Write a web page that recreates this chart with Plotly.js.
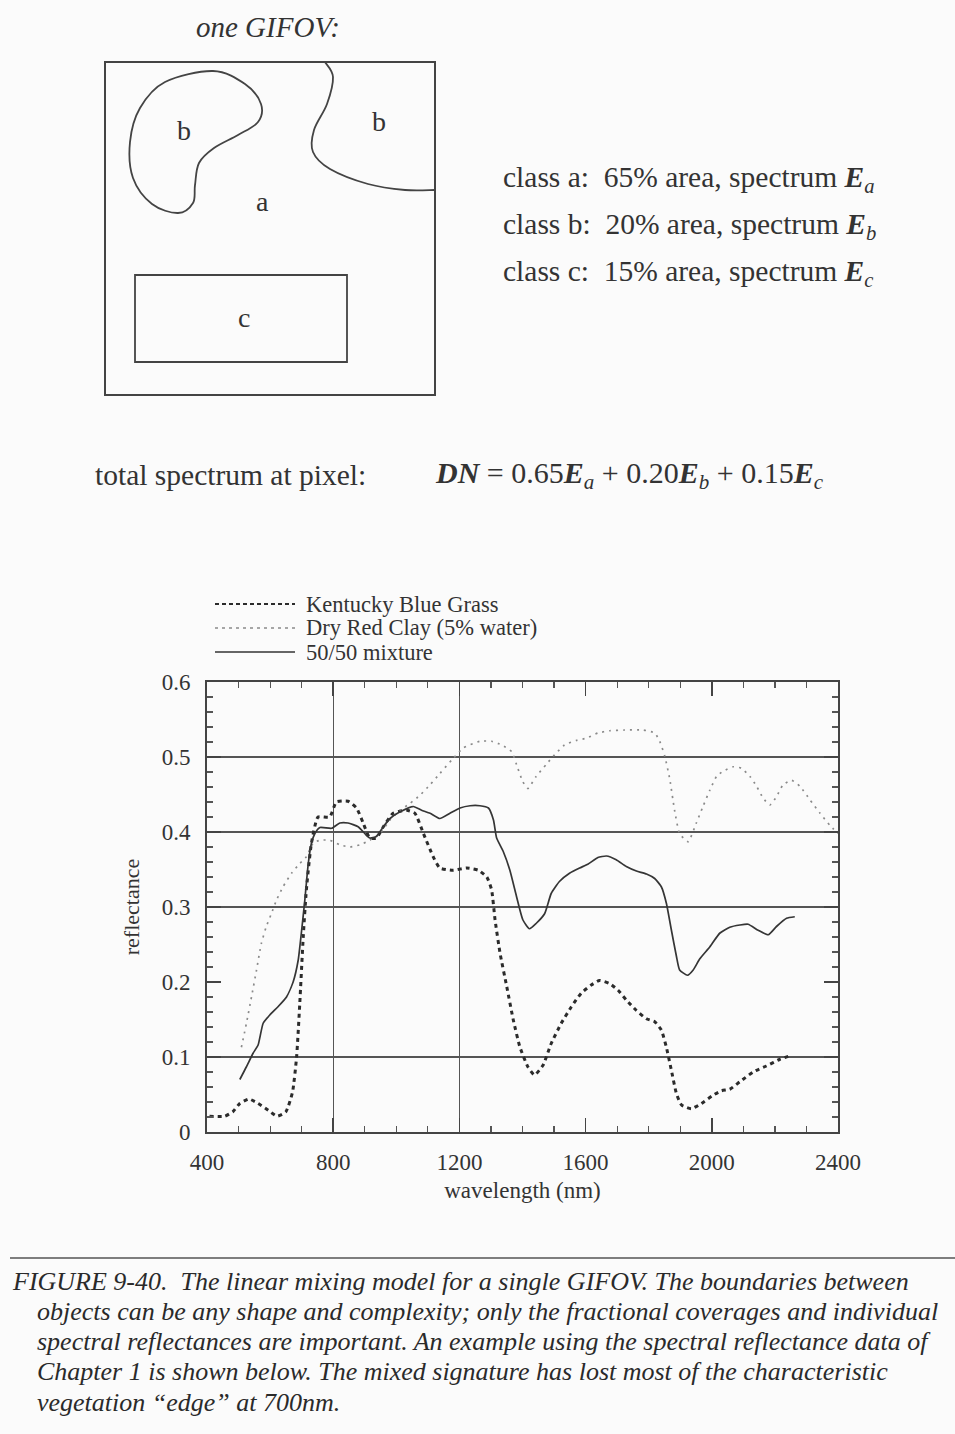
<!DOCTYPE html>
<html>
<head>
<meta charset="utf-8">
<script src="https://cdn.plot.ly/plotly-3.0.1.min.js"></script>
<style>
  html, body { margin: 0; padding: 0; background: #fbfbfb; }
  #chart { width: 955px; height: 1434px; }
</style>
</head>
<body>
<div id="chart"></div>
<script>
// ---------------- data ----------------
const seriesNames = ["Kentucky Blue Grass", "Dry Red Clay (5% water)", "50/50 mixture"];

const grassNm = [408, 456, 482, 504, 533, 562, 594, 622, 650, 671, 684, 694, 705, 715, 731, 752, 789, 810, 847, 874, 895, 916, 937, 959, 990, 1033, 1059, 1086, 1117, 1138, 1180, 1223, 1260, 1287, 1302, 1313, 1329, 1350, 1371, 1392, 1417, 1438, 1465, 1491, 1523, 1555, 1586, 1618, 1644, 1676, 1703, 1729, 1761, 1793, 1819, 1840, 1856, 1872, 1888, 1904, 1935, 1967, 2004, 2031, 2057, 2089, 2131, 2173, 2216, 2250];
const grassRefl = [0.021, 0.021, 0.027, 0.038, 0.044, 0.038, 0.029, 0.021, 0.027, 0.053, 0.100, 0.171, 0.260, 0.323, 0.385, 0.420, 0.420, 0.440, 0.441, 0.432, 0.412, 0.392, 0.392, 0.407, 0.425, 0.429, 0.425, 0.398, 0.367, 0.352, 0.349, 0.352, 0.349, 0.340, 0.323, 0.283, 0.238, 0.194, 0.149, 0.113, 0.087, 0.076, 0.089, 0.118, 0.145, 0.167, 0.185, 0.196, 0.202, 0.198, 0.189, 0.176, 0.162, 0.151, 0.147, 0.136, 0.113, 0.082, 0.051, 0.036, 0.031, 0.038, 0.049, 0.055, 0.057, 0.067, 0.080, 0.088, 0.097, 0.102];

const clayNm = [509, 525, 541, 557, 572, 588, 604, 620, 641, 668, 694, 715, 736, 758, 789, 821, 853, 885, 916, 948, 980, 1012, 1043, 1075, 1107, 1138, 1180, 1212, 1265, 1302, 1334, 1366, 1381, 1401, 1417, 1443, 1475, 1502, 1533, 1570, 1602, 1639, 1676, 1724, 1782, 1819, 1835, 1851, 1867, 1882, 1898, 1925, 1951, 1972, 1994, 2015, 2036, 2068, 2094, 2121, 2142, 2163, 2184, 2205, 2226, 2253, 2279, 2311, 2343, 2374, 2400];
const clayRefl = [0.113, 0.145, 0.180, 0.216, 0.251, 0.274, 0.291, 0.309, 0.327, 0.345, 0.358, 0.367, 0.385, 0.389, 0.389, 0.383, 0.380, 0.383, 0.389, 0.398, 0.416, 0.429, 0.438, 0.449, 0.463, 0.478, 0.498, 0.512, 0.521, 0.521, 0.516, 0.507, 0.490, 0.467, 0.458, 0.474, 0.490, 0.503, 0.516, 0.522, 0.525, 0.532, 0.535, 0.536, 0.536, 0.532, 0.521, 0.501, 0.470, 0.429, 0.398, 0.387, 0.412, 0.434, 0.456, 0.474, 0.481, 0.487, 0.485, 0.474, 0.461, 0.445, 0.436, 0.447, 0.463, 0.469, 0.461, 0.443, 0.425, 0.409, 0.398];

const mixNm = [504, 525, 546, 562, 578, 599, 625, 652, 673, 689, 699, 710, 721, 731, 742, 758, 795, 821, 847, 879, 900, 916, 937, 959, 980, 1012, 1054, 1080, 1107, 1138, 1170, 1202, 1234, 1265, 1292, 1308, 1318, 1339, 1360, 1381, 1401, 1422, 1443, 1470, 1491, 1517, 1549, 1581, 1607, 1639, 1666, 1697, 1729, 1761, 1793, 1819, 1840, 1856, 1872, 1888, 1898, 1923, 1941, 1962, 1994, 2025, 2057, 2089, 2115, 2147, 2179, 2205, 2237, 2263];
const mixRefl = [0.070, 0.087, 0.105, 0.116, 0.145, 0.156, 0.167, 0.180, 0.200, 0.229, 0.265, 0.309, 0.358, 0.385, 0.398, 0.406, 0.405, 0.412, 0.412, 0.407, 0.398, 0.392, 0.394, 0.407, 0.418, 0.427, 0.434, 0.429, 0.425, 0.418, 0.425, 0.432, 0.435, 0.435, 0.432, 0.416, 0.392, 0.374, 0.349, 0.314, 0.283, 0.271, 0.278, 0.291, 0.318, 0.334, 0.345, 0.352, 0.357, 0.366, 0.368, 0.363, 0.354, 0.348, 0.344, 0.338, 0.327, 0.305, 0.269, 0.234, 0.216, 0.209, 0.216, 0.231, 0.247, 0.265, 0.273, 0.276, 0.277, 0.269, 0.263, 0.274, 0.285, 0.287];

const xTickVals = [400, 800, 1200, 1600, 2000, 2400];
const xTickText = ["400", "800", "1200", "1600", "2000", "2400"];
const yTickVals = [0, 0.1, 0.2, 0.3, 0.4, 0.5, 0.6];
const yTickText = ["0", "0.1", "0.2", "0.3", "0.4", "0.5", "0.6"];
const xGridVals = [800, 1200];
const yGridVals = [0.1, 0.3, 0.4, 0.5];

const classLabels = ["a", "b", "c"];
const classPercent = ["65%", "20%", "15%"];
const mixWeights = ["0.65", "0.20", "0.15"];

// ---------------- layout helpers (page pixels -> paper) ----------------
const W = 955, H = 1434;
const px = x => x / W;
const py = y => 1 - y / H;
const SERIF = "Liberation Serif, Times New Roman, serif";
const INK = "#333333";

function smoothClosedPath(pts) {
  const n = pts.length;
  let d = `M${px(pts[0][0])},${py(pts[0][1])}`;
  for (let i = 0; i < n; i++) {
    const p0 = pts[(i - 1 + n) % n], p1 = pts[i], p2 = pts[(i + 1) % n], p3 = pts[(i + 2) % n];
    const c1 = [p1[0] + (p2[0] - p0[0]) / 6, p1[1] + (p2[1] - p0[1]) / 6];
    const c2 = [p2[0] - (p3[0] - p1[0]) / 6, p2[1] - (p3[1] - p1[1]) / 6];
    d += ` C${px(c1[0])},${py(c1[1])} ${px(c2[0])},${py(c2[1])} ${px(p2[0])},${py(p2[1])}`;
  }
  return d + " Z";
}
function smoothOpenPath(pts) {
  const n = pts.length;
  let d = `M${px(pts[0][0])},${py(pts[0][1])}`;
  for (let i = 0; i < n - 1; i++) {
    const p0 = pts[Math.max(i - 1, 0)], p1 = pts[i], p2 = pts[i + 1], p3 = pts[Math.min(i + 2, n - 1)];
    const c1 = [p1[0] + (p2[0] - p0[0]) / 6, p1[1] + (p2[1] - p0[1]) / 6];
    const c2 = [p2[0] - (p3[0] - p1[0]) / 6, p2[1] - (p3[1] - p1[1]) / 6];
    d += ` C${px(c1[0])},${py(c1[1])} ${px(c2[0])},${py(c2[1])} ${px(p2[0])},${py(p2[1])}`;
  }
  return d;
}

// diagram outlines (page pixels)
const blobPts = [[213, 71], [245, 84], [261, 104], [258, 122], [238, 135], [214, 148], [199, 163], [195, 185], [193, 203], [178, 213], [152, 204], [133, 178], [130, 142], [140, 108], [165, 82]];
const edgePts = [[325, 62], [333, 77], [327, 104], [314, 130], [313, 152], [330, 169], [368, 184], [405, 190], [435, 190]];

// line styles per series (shared by traces and the hand-drawn legend)
const seriesLines = [
  { color: "#2b2b2b", width: 3, dash: "4px,4px" },
  { color: "#8a8a8a", width: 1.7, dash: "2px,5px" },
  { color: "#353535", width: 1.7, dash: "solid" }
];

const shapes = [
  { type: "rect", xref: "paper", yref: "paper", x0: px(105), x1: px(435), y0: py(62), y1: py(395), line: { color: "#444", width: 2 } },
  { type: "rect", xref: "paper", yref: "paper", x0: px(135), x1: px(347), y0: py(275), y1: py(362), line: { color: "#444", width: 1.8 } },
  { type: "path", xref: "paper", yref: "paper", path: smoothClosedPath(blobPts), line: { color: "#444", width: 1.8 } },
  { type: "path", xref: "paper", yref: "paper", path: smoothOpenPath(edgePts), line: { color: "#444", width: 1.8 } },
  { type: "line", xref: "paper", yref: "paper", x0: px(10), x1: px(955), y0: py(1258), y1: py(1258), line: { color: "#555", width: 1.5 } }
];

function ann(text, x, y, size, opts) {
  return Object.assign({
    text: text, xref: "paper", yref: "paper", x: px(x), y: py(y),
    xanchor: "center", yanchor: "middle", showarrow: false,
    font: { family: SERIF, size: size, color: INK }
  }, opts || {});
}
const E = s => `<b><i>E</i></b><sub><i>${s}</i></sub>`;

const annotations = [
  ann("<i>one GIFOV:</i>", 268, 27, 29),
  ann("b", 184, 131, 28), ann("b", 379, 121, 28), ann("a", 262, 202, 28), ann("c", 244, 318, 28)
];
classLabels.forEach((c, i) => {
  annotations.push(ann(`class ${c}:\u00A0\u00A0${classPercent[i]} area, spectrum ${E(c)}`, 501, 179 + 47 * i, 29.5, { xanchor: "left" }));
});
annotations.push(ann("total spectrum at pixel:", 93, 475, 29.5, { xanchor: "left" }));
annotations.push(ann(`<b><i>DN</i></b> = ${mixWeights.map((w, i) => w + E(classLabels[i])).join(" + ")}`, 433, 475, 30, { xanchor: "left" }));

// hand-drawn legend (compact row spacing as in the reference)
seriesNames.forEach((name, i) => {
  const yy = 604 + 24 * i;
  shapes.push({ type: "line", xref: "paper", yref: "paper", x0: px(215), x1: px(295), y0: py(yy), y1: py(yy),
    line: { color: seriesLines[i].color, width: i === 0 ? 2 : seriesLines[i].width, dash: i === 0 ? "4px,3px" : (i === 1 ? "3px,4px" : "solid") } });
  annotations.push(ann(name, 304, yy, 22.5, { xanchor: "left" }));
});

const captionLines = [
  "FIGURE 9-40.\u00A0 The linear mixing model for a single GIFOV. The boundaries between",
  "objects can be any shape and complexity; only the fractional coverages and individual",
  "spectral reflectances are important. An example using the spectral reflectance data of",
  "Chapter 1 is shown below. The mixed signature has lost most of the characteristic",
  "vegetation \u201Cedge\u201D at 700nm."
];
captionLines.forEach((t, i) => {
  annotations.push(ann(`<i>${t}</i>`, i === 0 ? 10 : 35, 1281 + 30.3 * i, 26, { xanchor: "left", font: { family: SERIF, size: 26, color: "#2a2a2a" } }));
});

// ---------------- traces ----------------
const traces = [
  { x: grassNm, y: grassRefl, name: seriesNames[0], type: "scatter", mode: "lines",
    line: Object.assign({ shape: "spline", smoothing: 0.5 }, seriesLines[0]) },
  { x: clayNm, y: clayRefl, name: seriesNames[1], type: "scatter", mode: "lines",
    line: Object.assign({ shape: "spline", smoothing: 0.5 }, seriesLines[1]) },
  { x: mixNm, y: mixRefl, name: seriesNames[2], type: "scatter", mode: "lines",
    line: Object.assign({ shape: "spline", smoothing: 0.5 }, seriesLines[2]) },
  { x: [], y: [], xaxis: "x2", yaxis: "y2", showlegend: false, hoverinfo: "skip", type: "scatter", mode: "lines" }
];

const xDom = [207 / W, 838 / W];
const yDom = [1 - 1132 / H, 1 - 682 / H];

const layout = {
  width: W, height: H,
  margin: { l: 0, r: 0, t: 0, b: 0 },
  paper_bgcolor: "#fbfbfb",
  plot_bgcolor: "rgba(0,0,0,0)",
  font: { family: SERIF, color: INK },
  showlegend: false,
  xaxis: {
    domain: xDom, range: [400, 2400], tickvals: xTickVals, ticktext: xTickText,
    ticks: "inside", ticklen: 14, tickwidth: 1.5, tickcolor: "#444",
    minor: { dtick: 100, tick0: 400, ticks: "inside", ticklen: 6, tickwidth: 1.2, tickcolor: "#555" },
    showline: true, linecolor: "#444", linewidth: 2, mirror: "ticks",
    showgrid: false, zeroline: false,
    tickfont: { family: SERIF, size: 23, color: INK }, ticklabelstandoff: 8,
    title: { text: "wavelength (nm)", font: { family: SERIF, size: 23, color: INK }, standoff: 8 }
  },
  yaxis: {
    domain: yDom, range: [0, 0.6], tickvals: yTickVals, ticktext: yTickText,
    ticks: "inside", ticklen: 14, tickwidth: 1.5, tickcolor: "#444",
    minor: { dtick: 0.02, tick0: 0, ticks: "inside", ticklen: 6, tickwidth: 1.2, tickcolor: "#555" },
    showline: true, linecolor: "#444", linewidth: 2, mirror: "ticks",
    showgrid: false, zeroline: false,
    tickfont: { family: SERIF, size: 23, color: INK }, ticklabelstandoff: 10,
    title: { text: "reflectance", font: { family: SERIF, size: 22, color: INK }, standoff: 16 }
  },
  xaxis2: {
    overlaying: "x", domain: xDom, range: [400, 2400], tickvals: xGridVals,
    showgrid: true, gridcolor: "#555", gridwidth: 1.4, showticklabels: false, ticks: "",
    showline: false, zeroline: false
  },
  yaxis2: {
    overlaying: "y", domain: yDom, range: [0, 0.6], tickvals: yGridVals,
    showgrid: true, gridcolor: "#555", gridwidth: 1.4, showticklabels: false, ticks: "",
    showline: false, zeroline: false
  },
  shapes: shapes,
  annotations: annotations
};

Plotly.newPlot("chart", traces, layout, { staticPlot: true, displayModeBar: false });
</script>
</body>
</html>
